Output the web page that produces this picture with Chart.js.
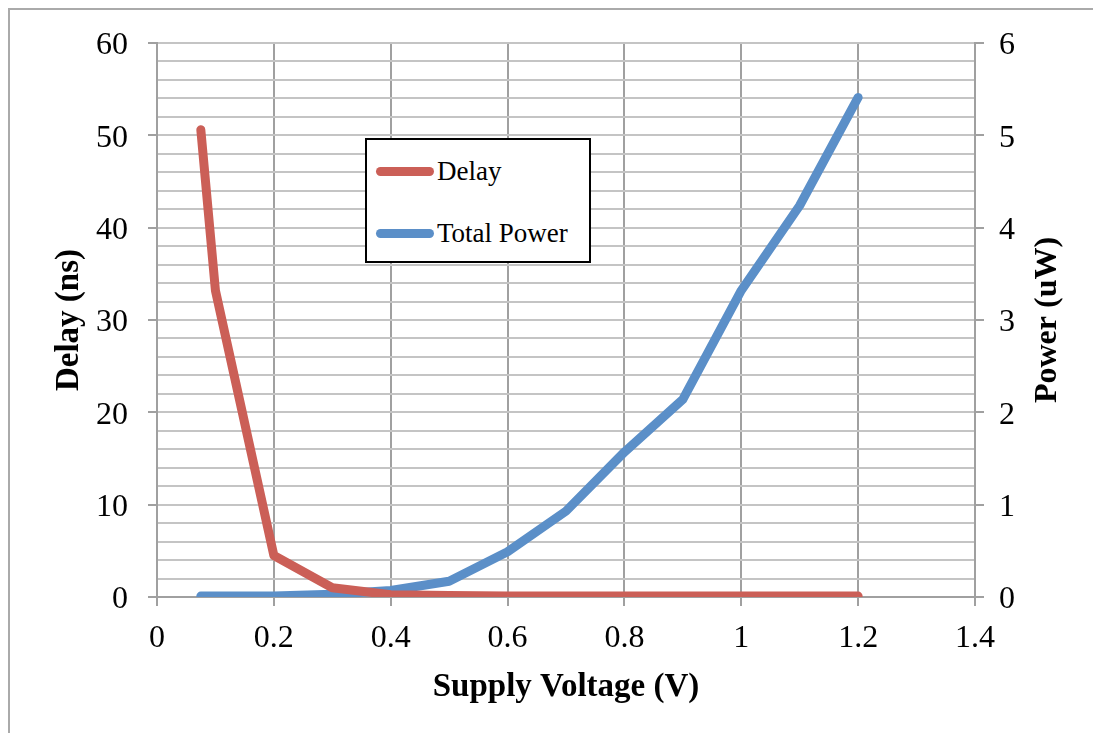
<!DOCTYPE html>
<html>
<head>
<meta charset="utf-8">
<script src="https://cdn.jsdelivr.net/npm/chart.js@4"></script>
<style>
  html, body { margin: 0; padding: 0; background: #fff; }
  #wrap { position: relative; width: 1093px; height: 733px; overflow: hidden; }
  #frame { position: absolute; left: 8px; top: 8px; width: 1200px; height: 800px; border: 2px solid #aaa; box-sizing: border-box; }
  #legend { position: absolute; left: 365px; top: 138px; width: 226px; height: 125px; border: 2px solid #000; box-sizing: border-box; background: #fff; font-family: "Liberation Serif", serif; font-size: 27px; }
  .item { position: absolute; left: 9px; height: 30px; line-height: 30px; white-space: nowrap; }
  .item span.swatch { display: inline-block; width: 58px; height: 9px; border-radius: 5px; vertical-align: middle; margin-right: 3px; position: relative; top: -2px; }
</style>
</head>
<body>
<div id="wrap">
  <div id="frame"></div>
  <canvas id="chart" width="1093" height="733"></canvas>
  <div id="legend"></div>
</div>
<script>
const voltage = [0.075, 0.1, 0.2, 0.3, 0.4, 0.5, 0.6, 0.7, 0.8, 0.9, 1.0, 1.1, 1.2];
const delayNs = [50.6, 33.2, 4.5, 1.0, 0.25, 0.15, 0.12, 0.1, 0.1, 0.1, 0.1, 0.1, 0.1];
const powerUw = [0.01, 0.01, 0.01, 0.03, 0.07, 0.17, 0.49, 0.93, 1.57, 2.14, 3.32, 4.24, 5.41];
const xTicks = [0, 0.2, 0.4, 0.6, 0.8, 1, 1.2, 1.4];

const red = '#cb5f57';
const blue = '#5b8fc8';
const serif = '"Liberation Serif", serif';

const pts = (ys) => voltage.map((v, i) => ({ x: v, y: ys[i] }));

// right title reads bottom-to-top, Chart.js would rotate it the other way
const rightTitle = {
  id: 'rightTitle',
  afterDraw(chart) {
    const ctx = chart.ctx;
    const a = chart.chartArea;
    ctx.save();
    ctx.translate(1048, (a.top + a.bottom) / 2);
    ctx.rotate(-Math.PI / 2);
    ctx.font = 'bold 32px ' + serif;
    ctx.fillStyle = '#000';
    ctx.textAlign = 'center';
    ctx.textBaseline = 'middle';
    ctx.fillText('Power (uW)', 0, 0);
    ctx.restore();
  }
};

const chart = new Chart(document.getElementById('chart'), {
  type: 'line',
  data: {
    datasets: [
      { label: 'Delay', data: pts(delayNs), yAxisID: 'y', borderColor: red, borderWidth: 9,
        borderCapStyle: 'round', borderJoinStyle: 'round', pointRadius: 0, tension: 0 },
      { label: 'Total Power', data: pts(powerUw), yAxisID: 'y2', borderColor: blue, borderWidth: 9,
        borderCapStyle: 'round', borderJoinStyle: 'round', pointRadius: 0, tension: 0 }
    ]
  },
  options: {
    responsive: false,
    animation: false,
    layout: { padding: { top: 43, left: 0, right: 0, bottom: 0 } },
    plugins: { legend: { display: false }, tooltip: { enabled: false } },
    scales: {
      x: {
        type: 'linear', min: 0, max: 1.4,
        afterBuildTicks: s => { s.ticks = xTicks.map(v => ({ value: v })); },
        afterFit: s => { s.height = 136; },
        ticks: { font: { family: serif, size: 32 }, color: '#000', padding: 13,
          callback: v => String(Math.round(v * 10) / 10) },
        grid: { color: '#a0a0a0', lineWidth: 2, tickLength: 9, tickColor: '#a0a0a0' },
        border: { color: '#a0a0a0', width: 2 },
        title: { display: true, text: 'Supply Voltage (V)', color: '#000',
          font: { family: serif, size: 33, weight: 'bold' }, padding: { top: 0, bottom: 26 } }
      },
      y: {
        position: 'left', min: 0, max: 60,
        afterFit: s => { s.width = 157; },
        ticks: { stepSize: 2, autoSkip: false, font: { family: serif, size: 32 }, color: '#000', padding: 20,
          labelOffset: 3, callback: v => (v % 10 === 0 ? v : '') },
        grid: { color: '#c4c4c4', lineWidth: 2, tickLength: 9,
          tickColor: c => (c.tick && c.tick.value % 10 === 0 ? '#a0a0a0' : 'rgba(0,0,0,0)') },
        border: { color: '#a0a0a0', width: 2 },
        title: { display: true, text: 'Delay (ns)', color: '#000',
          font: { family: serif, size: 33, weight: 'bold' }, padding: { top: 50, bottom: 0 } }
      },
      y2: {
        position: 'right', min: 0, max: 6,
        afterFit: s => { s.width = 118; },
        ticks: { stepSize: 1, font: { family: serif, size: 32 }, color: '#000', padding: 15, labelOffset: 3 },
        grid: { drawOnChartArea: false, tickLength: 9, tickColor: '#a0a0a0', lineWidth: 2 },
        border: { color: '#a0a0a0', width: 2 }
      }
    }
  },
  plugins: [rightTitle]
});

// legend box placed inside the plot like the original
const legend = document.getElementById('legend');
chart.data.datasets.forEach((ds, i) => {
  const el = document.createElement('div');
  el.className = 'item';
  el.style.top = (16 + i * 62) + 'px';
  el.innerHTML = '<span class="swatch" style="background:' + ds.borderColor + '"></span>' + ds.label;
  legend.appendChild(el);
});
</script>
</body>
</html>
